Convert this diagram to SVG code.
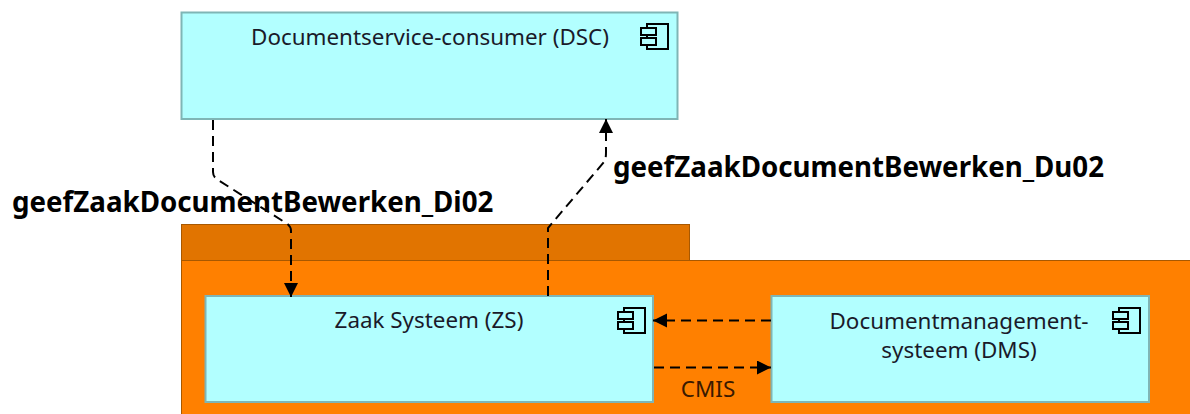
<svg xmlns="http://www.w3.org/2000/svg" width="1190" height="414" viewBox="0 0 1190 414">
<style>
.n{fill:#b2ffff;stroke:#7fb5b5;stroke-width:2}
.t{font-family:"Noto Sans","DejaVu Sans",sans-serif;font-size:22.400px;fill:#1a1a2a;text-anchor:middle}
.b{font-family:"Noto Sans","DejaVu Sans",sans-serif;font-size:27.700px;font-weight:bold;fill:#000}
.c{fill:none;stroke:#000;stroke-width:2;stroke-dasharray:10 6}
.ic{fill:none;stroke:#000;stroke-width:2}
</style>
<defs>
<marker id="a" markerUnits="userSpaceOnUse" markerWidth="16" markerHeight="16" refX="14" refY="7" orient="auto"><path d="M0 0L14 7L0 14Z" fill="#000"/></marker>
<symbol id="icon" width="30" height="30" overflow="visible"><path class="ic" d="M6 4V0H27V25H6V21M6 14V11"/><path class="ic" d="M0 4H15V11H0ZM0 14H15V21H0Z"/></symbol>
</defs>
<g id="container"><rect x="181.5" y="224.5" width="508" height="36" fill="#e17400" stroke="#a85800" stroke-width="1"/><rect x="181.5" y="260.5" width="1010" height="155" fill="#ff8000" stroke="#a85800" stroke-width="1"/></g>
<g id="dsc"><rect class="n" x="181.5" y="12.5" width="496" height="106.500"/><text class="t" x="430" y="45">Documentservice-consumer (DSC)</text><use href="#icon" x="641" y="24"/></g>
<g id="zs"><rect class="n" x="205.500" y="296" width="447.500" height="106"/><text class="t" x="429" y="328">Zaak Systeem (ZS)</text><use href="#icon" x="618" y="308"/></g>
<g id="dms"><rect class="n" x="771.500" y="296" width="377.500" height="106"/><text class="t" x="959" y="329">Documentmanagement-</text><text class="t" x="959" y="358">systeem (DMS)</text><use href="#icon" x="1113" y="308"/></g>
<g id="connectors">
<path class="c" marker-end="url(#a)" d="M213 120V172Q213 177 218 180L286 223Q291 226 291 231V297"/>
<path class="c" marker-end="url(#a)" d="M548 296V228L604 162Q606 160 606 152V119"/>
<path class="c" marker-end="url(#a)" d="M771 320.500H653"/>
<path class="c" marker-end="url(#a)" d="M654 367.500H771"/>
</g>
<g id="labels">
<text class="b" x="12" y="212">geefZaakDocumentBewerken_Di02</text>
<text class="b" x="613" y="177">geefZaakDocumentBewerken_Du02</text>
<text x="708" y="397" font-family="Noto Sans,DejaVu Sans,sans-serif" font-size="22.400" fill="#3a1a00" text-anchor="middle">CMIS</text>
</g>
</svg>
